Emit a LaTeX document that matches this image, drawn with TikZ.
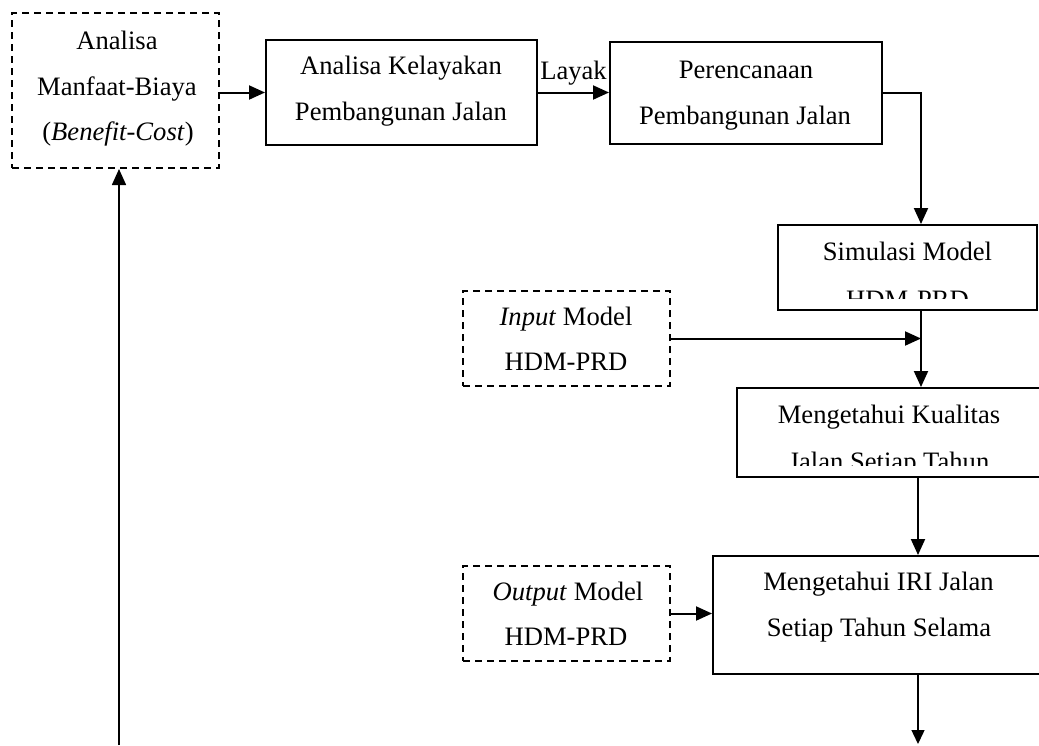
\documentclass[tikz,border=0pt]{standalone}
\usepackage{fontspec}
\setmainfont{Liberation Serif}
\usetikzlibrary{arrows.meta}
\begin{document}
\begin{tikzpicture}[x=0.5pt,y=-0.5pt,
  solidbox/.style={draw, line width=1pt, inner sep=0pt},
  dashbox/.style={draw, line width=1pt, dash pattern=on 3.5pt off 2.5pt, inner sep=0pt},
  txt/.style={anchor=base, inner sep=0pt, font=\fontsize{13.3}{16}\selectfont},
  arr/.style={line width=1pt, -{Triangle[length=8pt,width=7pt]}},
  thinarr/.style={line width=0.7pt, -{Triangle[length=7pt,width=6.5pt]}},
]
\useasboundingbox (0,0) rectangle (1039,745);
\clip (0,0) rectangle (1039,745);

% process boxes
\node[dashbox,  minimum width=103.5pt, minimum height=77.5pt] (A) at (115.5,90.5) {};
\node[solidbox, minimum width=135.5pt, minimum height=52.5pt] (B) at (401.5,92.5) {};
\node[solidbox, minimum width=136pt,   minimum height=51pt]   (C) at (746,93) {};
\node[solidbox, minimum width=129.5pt, minimum height=42.5pt] (D) at (907.5,267.5) {};
\node[dashbox,  minimum width=103.5pt, minimum height=47.5pt] (E) at (566.5,338.5) {};
\node[solidbox, minimum width=152.5pt, minimum height=44.5pt] (F) at (889.5,432.5) {};
\node[solidbox, minimum width=164.5pt, minimum height=59pt]   (G) at (877.5,615) {};
\node[dashbox,  minimum width=103.5pt, minimum height=47.5pt] (H) at (566.5,613.5) {};

% box texts
\node[txt] (A1) at (117,49) {Analisa};
\node[txt] (A2) at (117,95) {Manfaat-Biaya};
\node[txt] (A3) at (118,140) {(\textit{Benefit-Cost})};
\node[txt] (B1) at (401,74) {Analisa Kelayakan};
\node[txt] (B2) at (401,120) {Pembangunan Jalan};
\node[txt] (C1) at (746,78) {Perencanaan};
\node[txt] (C2) at (745,124) {Pembangunan Jalan};
\node[txt] (D1) at (907.5,260) {Simulasi Model};
\begin{scope}
  \clip (780,280) rectangle (1035,298);
  \node[txt] (D2) at (907.5,308) {HDM-PRD};
\end{scope}
\node[txt] (E1) at (566,325) {\textit{Input} Model};
\node[txt] (E2) at (566,370) {HDM-PRD};
\node[txt] (F1) at (889,423) {Mengetahui Kualitas};
\begin{scope}
  \clip (740,440) rectangle (1039,465);
  \node[txt] (F2) at (889,470) {Jalan Setiap Tahun};
\end{scope}
\node[txt] (G1) at (878.5,590) {Mengetahui IRI Jalan};
\node[txt] (G2) at (879,636) {Setiap Tahun Selama};
\node[txt] (H1) at (568,600) {\textit{Output} Model};
\node[txt] (H2) at (566,645) {HDM-PRD};

% connector columns and free ends
\coordinate (colA) at (921,0);
\coordinate (colB) at (918,0);
\coordinate (gout) at (918,744);
\coordinate (lin) at (119,745);

% connectors
\draw[arr] (B.west -| A.east) -- (B.west);
\draw[arr] (B.east) -- node[midway, above, inner sep=3pt, font=\fontsize{13.3}{16}\selectfont] (lay) {Layak} (B.east -| C.west);
\draw[arr] (C.east) -| (D.north -| colA);
\draw[arr] (D.south -| colA) -- (F.north -| colA);
\draw[arr] (E.east) -- (E.east -| colA);
\draw[arr] (F.south -| colB) -- (G.north -| colB);
\draw[arr] (H.east) -- (H.east -| G.west);
\draw[thinarr] (G.south -| colB) -- (gout);
\draw[arr, line width=0.8pt] (lin) -- (A.south -| lin);
\end{tikzpicture}
\end{document}
